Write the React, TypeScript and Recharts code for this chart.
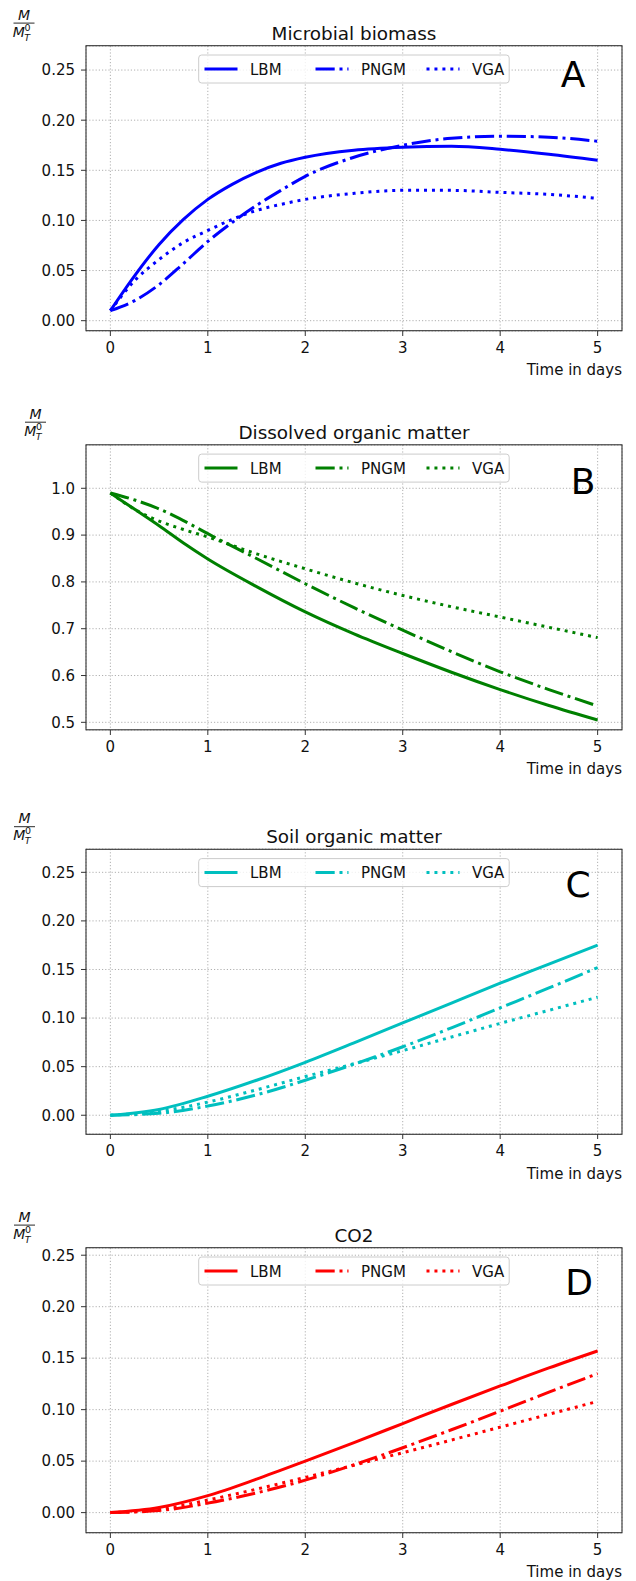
import React from 'react';
import { LineChart, Line, XAxis, YAxis, CartesianGrid } from 'recharts';

// ---------- data ----------
const seriesNames = ['LBM', 'PNGM', 'VGA'];
const xTicks = [0, 1, 2, 3, 4, 5];
const yTicksSmall = [0, 0.05, 0.1, 0.15, 0.2, 0.25];
const yTicksDom = [0.5, 0.6, 0.7, 0.8, 0.9, 1.0];

// A: Microbial biomass
const timeA = [0, 0.25, 0.5, 0.75, 1, 1.25, 1.5, 1.75, 2, 2.5, 3, 3.5, 4, 4.5, 5];
const lbmA = [0.01, 0.045, 0.076, 0.101, 0.121, 0.136, 0.148, 0.157, 0.163, 0.17, 0.173, 0.174, 0.171, 0.166, 0.16];
const pngmA = [0.01, 0.02, 0.036, 0.057, 0.079, 0.098, 0.115, 0.13, 0.144, 0.163, 0.175, 0.182, 0.184, 0.183, 0.179];
const vgaA = [0.01, 0.04, 0.061, 0.078, 0.09, 0.101, 0.11, 0.116, 0.121, 0.127, 0.13, 0.13, 0.128, 0.126, 0.122];

// B: Dissolved organic matter
const timeB = [0, 0.25, 0.5, 0.75, 1, 1.5, 2, 2.5, 3, 3.5, 4, 4.5, 5];
const lbmB = [0.99, 0.955, 0.92, 0.883, 0.849, 0.79, 0.736, 0.689, 0.647, 0.607, 0.57, 0.536, 0.505];
const pngmB = [0.99, 0.975, 0.956, 0.931, 0.903, 0.85, 0.796, 0.745, 0.697, 0.651, 0.608, 0.57, 0.535];
const vgaB = [0.99, 0.955, 0.93, 0.912, 0.896, 0.86, 0.828, 0.798, 0.771, 0.747, 0.725, 0.703, 0.681];

// C: Soil organic matter
const timeC = [0, 0.5, 1, 1.5, 2, 2.5, 3, 3.5, 4, 4.5, 5];
const lbmC = [0, 0.006, 0.0195, 0.036, 0.0545, 0.0745, 0.095, 0.1155, 0.136, 0.1555, 0.175];
const pngmC = [0, 0.002, 0.0095, 0.021, 0.036, 0.0525, 0.0705, 0.09, 0.1105, 0.131, 0.152];
const vgaC = [0, 0.004, 0.0135, 0.0262, 0.0398, 0.053, 0.0665, 0.0805, 0.0945, 0.108, 0.1215];

// D: CO2
const timeD = [0, 0.5, 1, 1.5, 2, 2.5, 3, 3.5, 4, 4.5, 5];
const lbmD = [0, 0.005, 0.0165, 0.0325, 0.05, 0.068, 0.0865, 0.105, 0.123, 0.1405, 0.157];
const pngmD = [0, 0.002, 0.0092, 0.0192, 0.0315, 0.0465, 0.063, 0.0805, 0.0985, 0.117, 0.135];
const vgaD = [0, 0.003, 0.0122, 0.0228, 0.0342, 0.046, 0.0582, 0.0705, 0.083, 0.0955, 0.108];

const titles = ['Microbial biomass', 'Dissolved organic matter', 'Soil organic matter', 'CO2'];
const letters = ['A', 'B', 'C', 'D'];
const colors = ['#0000ff', '#008000', '#00bfbf', '#ff0000'];
const xLabel = 'Time in days';

// ---------- layout ----------
const W = 636;
const H = 1581;
const PLOT_LEFT = 86;
const PLOT_RIGHT = 622;
const PLOT_H = 285;
const MT = 50;
const MB = 60;
const YW = 60;
const XH = 30;
const FONT = '"DejaVu Sans", sans-serif';

const dashes: Record<string, string | undefined> = {
  LBM: undefined,
  PNGM: '19.2 4.8 3 4.8',
  VGA: '3 4.95',
};

function rows(t: number[], a: number[], b: number[], c: number[]) {
  return t.map((x, i) => ({ t: x, LBM: a[i], PNGM: b[i], VGA: c[i] }));
}

type PanelCfg = {
  top: number;
  data: any[];
  domain: [number, number];
  yTicks: number[];
  fmt: (v: number) => string;
  labelX: number;
  letterX: number;
  letterBase: number;
};

const panels: PanelCfg[] = [
  { top: 45.7, data: rows(timeA, lbmA, pngmA, vgaA), domain: [-0.0103, 0.274], yTicks: yTicksSmall, fmt: (v) => v.toFixed(2), labelX: 24, letterX: 573, letterBase: 41.5 },
  { top: 444.8, data: rows(timeB, lbmB, pngmB, vgaB), domain: [0.4836, 1.0925], yTicks: yTicksDom, fmt: (v) => v.toFixed(1), labelX: 35.5, letterX: 583, letterBase: 49 },
  { top: 849.3, data: rows(timeC, lbmC, pngmC, vgaC), domain: [-0.0193, 0.274], yTicks: yTicksSmall, fmt: (v) => v.toFixed(2), labelX: 24.5, letterX: 578, letterBase: 48 },
  { top: 1247.7, data: rows(timeD, lbmD, pngmD, vgaD), domain: [-0.0198, 0.257], yTicks: yTicksSmall, fmt: (v) => v.toFixed(2), labelX: 24.5, letterX: 579, letterBase: 47.5 },
];

function Chart({ cfg, color }: { cfg: PanelCfg; color: string }) {
  return (
    <div style={{ position: 'absolute', left: 0, top: cfg.top - MT }}>
      <LineChart
        width={W}
        height={MT + PLOT_H + MB}
        data={cfg.data}
        margin={{ top: MT, right: W - PLOT_RIGHT, bottom: MB - XH, left: PLOT_LEFT - YW }}
      >
        <CartesianGrid stroke="#b0b0b0" strokeDasharray="1.2 2" strokeWidth={1} />
        <XAxis
          dataKey="t"
          type="number"
          domain={[-0.25, 5.25]}
          ticks={xTicks}
          interval={0}
          height={XH}
          axisLine={false}
          tickSize={5}
          tickMargin={6}
          tickLine={{ stroke: '#333', strokeWidth: 1 }}
          tick={{ fill: '#111', fontSize: 15, fontFamily: FONT }}
          allowDataOverflow
        />
        <YAxis
          type="number"
          domain={cfg.domain}
          ticks={cfg.yTicks}
          interval={0}
          width={YW}
          axisLine={false}
          tickSize={5}
          tickMargin={6}
          tickLine={{ stroke: '#333', strokeWidth: 1 }}
          tick={{ fill: '#111', fontSize: 15, fontFamily: FONT }}
          tickFormatter={cfg.fmt}
          allowDataOverflow
        />
        {seriesNames.map((name) => (
          <Line
            key={name}
            type="monotone"
            dataKey={name}
            stroke={color}
            strokeWidth={3}
            strokeDasharray={dashes[name]}
            dot={false}
            activeDot={false}
            isAnimationActive={false}
          />
        ))}
      </LineChart>
    </div>
  );
}

function Overlay({ cfg, idx }: { cfg: PanelCfg; idx: number }) {
  const top = cfg.top;
  const bottom = top + PLOT_H;
  const cx = (PLOT_LEFT + PLOT_RIGHT) / 2;
  const color = colors[idx];
  const bar = top - 22.6;
  const lx = cfg.labelX;
  const legTop = top + 9.3;
  const legLeft = 198.7;
  const legW = 310.5;
  const legH = 28;
  const legBase = top + 28.8;
  const legMid = top + 23.3;
  return (
    <g>
      {/* axes frame */}
      <rect x={PLOT_LEFT} y={top} width={PLOT_RIGHT - PLOT_LEFT} height={PLOT_H} fill="none" stroke="#333" strokeWidth={1.1} />
      {/* title */}
      <text x={cx} y={top - 6} textAnchor="middle" fontSize={18.4} fontFamily={FONT} fill="#111">
        {titles[idx]}
      </text>
      {/* y label fraction */}
      <text x={lx} y={bar - 3.3} textAnchor="middle" fontSize={14} fontStyle="italic" fontFamily={FONT} fill="#111">M</text>
      <line x1={lx - 10.5} x2={lx + 10.5} y1={bar} y2={bar} stroke="#111" strokeWidth={0.9} />
      <text x={lx - 11.2} y={bar + 13.4} fontSize={14} fontStyle="italic" fontFamily={FONT} fill="#111">M</text>
      <text x={lx + 0.6} y={bar + 7.7} fontSize={9.5} fontFamily={FONT} fill="#111">0</text>
      <text x={lx + 0.2} y={bar + 17.4} fontSize={9.5} fontStyle="italic" fontFamily={FONT} fill="#111">T</text>
      {/* x label */}
      <text x={PLOT_RIGHT} y={bottom + 44.5} textAnchor="end" fontSize={15} fontFamily={FONT} fill="#111">
        {xLabel}
      </text>
      {/* panel letter */}
      <text x={cfg.letterX} y={top + cfg.letterBase} textAnchor="middle" fontSize={36} fontFamily={FONT} fill="#000">
        {letters[idx]}
      </text>
      {/* legend */}
      <rect x={legLeft} y={legTop} width={legW} height={legH} rx={3} ry={3} fill="#ffffff" fillOpacity={0.8} stroke="#cccccc" strokeWidth={1} />
      {seriesNames.map((name, i) => {
        const x0 = 204.5 + i * 111;
        return (
          <g key={name}>
            <line x1={x0} x2={x0 + 33} y1={legMid} y2={legMid} stroke={color} strokeWidth={3} strokeDasharray={dashes[name]} />
            <text x={x0 + 45.5} y={legBase} fontSize={15} fontFamily={FONT} fill="#111">{name}</text>
          </g>
        );
      })}
    </g>
  );
}

export default function App() {
  return (
    <div style={{ position: 'relative', width: W, height: H, background: '#fff', fontFamily: FONT, overflow: 'hidden' }}>
      <style>{`body{margin:0;background:#fff;}`}</style>
      {panels.map((cfg, i) => (
        <Chart key={i} cfg={cfg} color={colors[i]} />
      ))}
      <svg width={W} height={H} style={{ position: 'absolute', left: 0, top: 0, pointerEvents: 'none' }}>
        {panels.map((cfg, i) => (
          <Overlay key={i} cfg={cfg} idx={i} />
        ))}
      </svg>
    </div>
  );
}
